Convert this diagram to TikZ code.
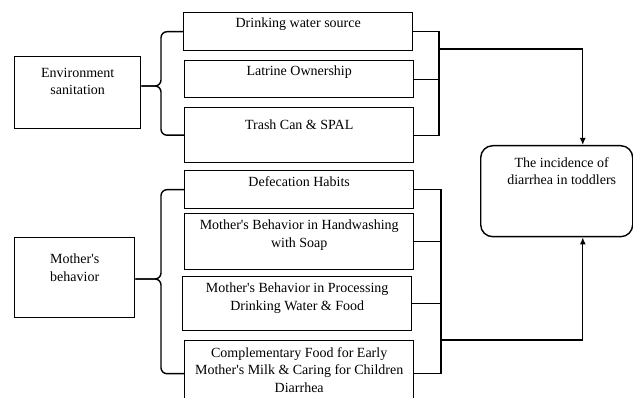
\documentclass[tikz,border=0pt]{standalone}
\usepackage{fontspec}
\setmainfont{Liberation Serif}
\usetikzlibrary{arrows.meta,calc}
\newcommand{\apos}{\textquotesingle}

\begin{document}
\begin{tikzpicture}[
  x=1pt, y=-1pt,
  every node/.style={font=\fontsize{14}{17.5}\selectfont},
  box/.style={draw, line width=1.4pt, anchor=north west, inner sep=0pt},
  lbl/.style={anchor=north, align=center, inner sep=0pt, yshift=#1},
  lbl/.default=-6pt,
  outcome/.style={box, rounded corners=12pt},
  brace/.style={line width=1.4pt, rounded corners=6pt},
  link/.style={line width=1.3pt},
  arrow/.style={link, -{Latex[length=7pt,width=6pt]}}
]
\useasboundingbox (0,0) rectangle (633,398);

% ---------- Groups (left) ----------
\node[box, minimum width=126pt, minimum height=72pt, label={[lbl=-12pt]north:Environment\\sanitation}] (env) at (14,56) {};
\node[box, minimum width=120pt, minimum height=80pt, label={[lbl=-17pt]north:Mother\apos s\\behavior}] (mom) at (14,237) {};

% ---------- Factors (middle) ----------
\node[box, minimum width=229pt, minimum height=38pt, label={[lbl]north:Drinking water source}] (water) at (183,12) {};
\node[box, minimum width=229pt, minimum height=37pt, label={[lbl]north:Latrine Ownership}] (latrine) at (184,60) {};
\node[box, minimum width=229pt, minimum height=55pt, label={[lbl=-13pt]north:Trash Can \& SPAL}] (trash) at (184,107) {};
\node[box, minimum width=229pt, minimum height=38pt, label={[lbl]north:Defecation Habits}] (defec) at (184,170) {};
\node[box, minimum width=229pt, minimum height=56pt, label={[lbl=-7pt]north:Mother\apos s Behavior in Handwashing\\with Soap}] (hand) at (184,213) {};
\node[box, minimum width=229pt, minimum height=54pt, label={[lbl=-7pt]north:Mother\apos s Behavior in Processing\\Drinking Water \& Food}] (proc) at (182,276) {};
\node[box, minimum width=229pt, minimum height=66pt, label={[lbl=-7pt]north:Complementary Food for Early\\Mother\apos s Milk \& Caring for Children\\Diarrhea}] (comp) at (184,340) {};

% ---------- Outcome (right) ----------
\node[outcome, minimum width=152pt, minimum height=91pt, label={[lbl=-12pt, xshift=5pt]north:The incidence of\\diarrhea in toddlers}] (target) at (480,145) {};

% ---------- Braces ----------
\coordinate (envfork) at (161,86);
\coordinate (momfork) at (161,279);
\draw[brace] (water.west) -| (envfork) -- (envfork -| env.east);
\draw[brace] (trash.west) -| (envfork) -- (envfork -| env.east);
\draw[brace] (defec.west) -| (momfork) -- (momfork -| mom.east);
\draw[brace] (comp.west) -| (momfork) -- (momfork -| mom.east);

% ---------- Collectors ----------
\coordinate (envbus) at (439,49);
\coordinate (mombus) at (441,340);
\coordinate (intop) at ($(target.north west)!.67!(target.north east)$);
\coordinate (inbot) at ($(target.south west)!.67!(target.south east)$);
\draw[link] (water.east) -| (envbus);
\draw[link] (trash.east) -| (envbus);
\draw[link] (latrine.east) -- (latrine.east -| envbus);
\draw[link] (defec.east) -| (mombus);
\draw[link] (comp.east) -| (mombus);
\draw[link] (hand.east) -- (hand.east -| mombus);
\draw[link] (proc.east) -- (proc.east -| mombus);
\draw[arrow] (envbus) -| (intop);
\draw[arrow] (mombus) -| (inbot);
\end{tikzpicture}
\end{document}
